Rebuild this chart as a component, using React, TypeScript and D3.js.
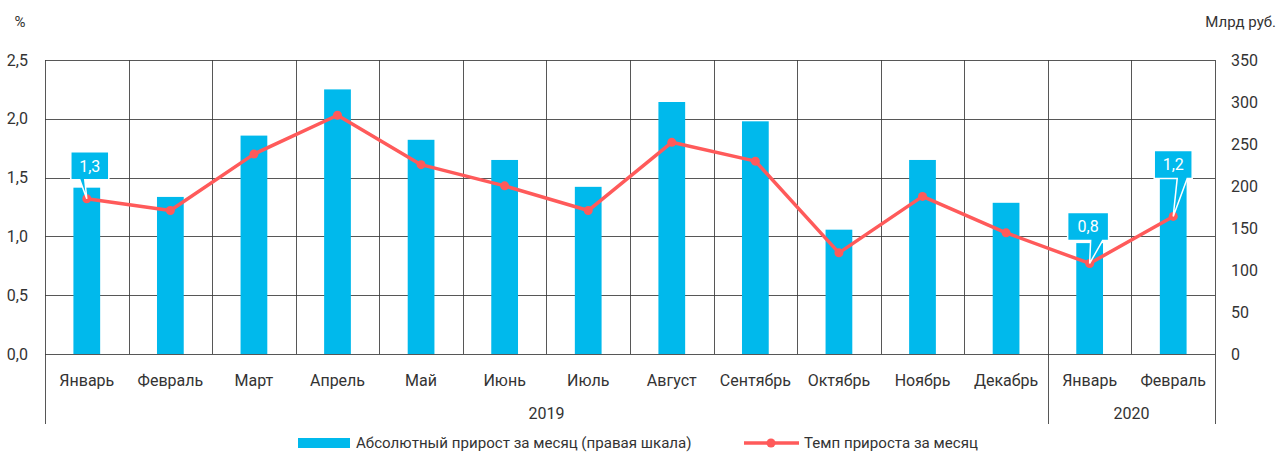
import React from "react";
import * as d3 from "d3";

const months = ["Январь", "Февраль", "Март", "Апрель", "Май", "Июнь", "Июль", "Август", "Сентябрь", "Октябрь", "Ноябрь", "Декабрь", "Январь", "Февраль"];
const yearGroups = [
  { label: "2019", start: 0, end: 12 },
  { label: "2020", start: 12, end: 14 },
];
const absGrowth = [198, 187, 260, 315, 255, 231, 199, 300, 277, 148, 231, 180, 132, 210];
const growthRate = [1.32, 1.22, 1.70, 2.03, 1.61, 1.43, 1.22, 1.80, 1.64, 0.86, 1.34, 1.03, 0.77, 1.17];
const leftTicks = [0, 0.5, 1.0, 1.5, 2.0, 2.5];
const rightTicks = [0, 50, 100, 150, 200, 250, 300, 350];
const calloutIndex = [0, 12, 13];
const calloutLabels = ["1,3", "0,8", "1,2"];
const barSeriesName = "Абсолютный прирост за месяц (правая шкала)";
const lineSeriesName = "Темп прироста за месяц";
const leftUnit = "%";
const rightUnit = "Млрд руб.";

// layout (not data)
const W = 1279, H = 455;
const M = { left: 45, right: 1215, top: 60, bottom: 354 };
const calloutLayout = [
  { dx: 3, gap: 19, w: 38, tailA: -7, tailB: -2 },
  { dx: -1.5, gap: 23, w: 41, tailA: 1, tailB: 13 },
  { dx: 0, gap: 38, w: 38, tailA: 4, tailB: 14 },
];
const BAR = "#00B9EC";
const LINE = "#FF5A5A";
const GRID = "#3a3a3a";
const TEXT = "#333333";
const FONT = "Roboto, 'Noto Sans', sans-serif";

export default function App() {
  const idx = months.map((_, i) => i);
  const x = d3.scaleBand<number>().domain(idx).range([M.left, M.right]).padding(0);
  const yL = d3.scaleLinear().domain([0, 2.5]).range([M.bottom, M.top]);
  const yR = d3.scaleLinear().domain([0, 350]).range([M.bottom, M.top]);
  const bw = x.bandwidth() * 0.32;
  const cx = (i: number) => (x(i) as number) + x.bandwidth() / 2;
  const line = d3.line<number>().x((_, i) => cx(i)).y((d) => yL(d));
  const fmt = (v: number) => d3.format(".1f")(v).replace(".", ",");

  const boundaries = d3.range(0, months.length + 1).map((i) =>
    i < months.length ? (x(i) as number) : M.right
  );
  const groupEdges = new Set<number>();
  yearGroups.forEach((g) => { groupEdges.add(g.start); groupEdges.add(g.end); });

  return (
    <svg width={W} height={H} style={{ position: "absolute", left: 0, top: 0, background: "#fff" }} fontFamily={FONT}>
      {/* horizontal grid */}
      {leftTicks.map((t) => (
        <line key={"h" + t} x1={M.left} x2={M.right} y1={Math.round(yL(t)) + 0.5} y2={Math.round(yL(t)) + 0.5} stroke={GRID} strokeWidth={1} strokeOpacity={0.85} />
      ))}
      {/* vertical grid */}
      {boundaries.map((bx, i) => (
        <line key={"v" + i} x1={Math.round(bx) + 0.5} x2={Math.round(bx) + 0.5} y1={M.top} y2={groupEdges.has(i) ? 424 : M.bottom} stroke={GRID} strokeWidth={1} strokeOpacity={0.85} />
      ))}
      {/* left ticks */}
      {leftTicks.map((t) => (
        <text key={"l" + t} x={28} y={yL(t)} dy="0.35em" textAnchor="end" fontSize={16} fill={TEXT}>{fmt(t)}</text>
      ))}
      <text x={20} y={22} dy="0.35em" textAnchor="middle" fontSize={15} fill={TEXT}>{leftUnit}</text>
      {/* right ticks */}
      {rightTicks.map((t) => (
        <text key={"r" + t} x={1231} y={yR(t)} dy="0.35em" textAnchor="start" fontSize={16} fill={TEXT}>{t}</text>
      ))}
      <text x={1276} y={22} dy="0.35em" textAnchor="end" fontSize={15} fill={TEXT}>{rightUnit}</text>
      {/* month labels */}
      {months.map((m, i) => (
        <text key={"m" + i} x={cx(i)} y={380} dy="0.35em" textAnchor="middle" fontSize={16} fill={TEXT}>{m}</text>
      ))}
      {yearGroups.map((g) => (
        <text key={g.label} x={(boundaries[g.start] + boundaries[g.end]) / 2} y={413} dy="0.35em" textAnchor="middle" fontSize={16} fill={TEXT}>{g.label}</text>
      ))}
      {/* bars */}
      {absGrowth.map((v, i) => (
        <rect key={"b" + i} x={cx(i) - bw / 2} y={yR(v)} width={bw} height={yR(0) - yR(v)} fill={BAR} />
      ))}
      {/* line */}
      <path d={line(growthRate) || ""} fill="none" stroke={LINE} strokeWidth={3.5} strokeLinejoin="round" />
      {growthRate.map((v, i) => (
        <circle key={"c" + i} cx={cx(i)} cy={yL(v)} r={4.5} fill={LINE} />
      ))}
      {/* callouts */}
      {calloutIndex.map((ci, k) => {
        const L = calloutLayout[k];
        const px = cx(ci), py = yL(growthRate[ci]);
        const bxC = px + L.dx;
        const bottom = py - L.gap;
        const top = bottom - 28;
        const left = bxC - L.w / 2, right = bxC + L.w / 2;
        const p = d3.path();
        p.moveTo(left, top);
        p.lineTo(right, top);
        p.lineTo(right, bottom);
        p.lineTo(px + L.tailB, bottom);
        p.lineTo(px, py);
        p.lineTo(px + L.tailA, bottom);
        p.lineTo(left, bottom);
        p.closePath();
        return (
          <g key={"co" + k}>
            <path d={p.toString()} fill={BAR} stroke="#fff" strokeWidth={1.5} strokeLinejoin="miter" />
            <text x={bxC} y={(top + bottom) / 2} dy="0.36em" textAnchor="middle" fontSize={16} fill="#fff">{calloutLabels[k]}</text>
          </g>
        );
      })}
      {/* legend */}
      <rect x={298} y={438} width={52} height={10} fill={BAR} />
      <text x={356} y={443} dy="0.35em" fontSize={15.1} fill={TEXT}>{barSeriesName}</text>
      <line x1={744} x2={799} y1={443} y2={443} stroke={LINE} strokeWidth={3.5} />
      <circle cx={771} cy={443} r={4.5} fill={LINE} />
      <text x={804} y={443} dy="0.35em" fontSize={15.1} fill={TEXT}>{lineSeriesName}</text>
    </svg>
  );
}
